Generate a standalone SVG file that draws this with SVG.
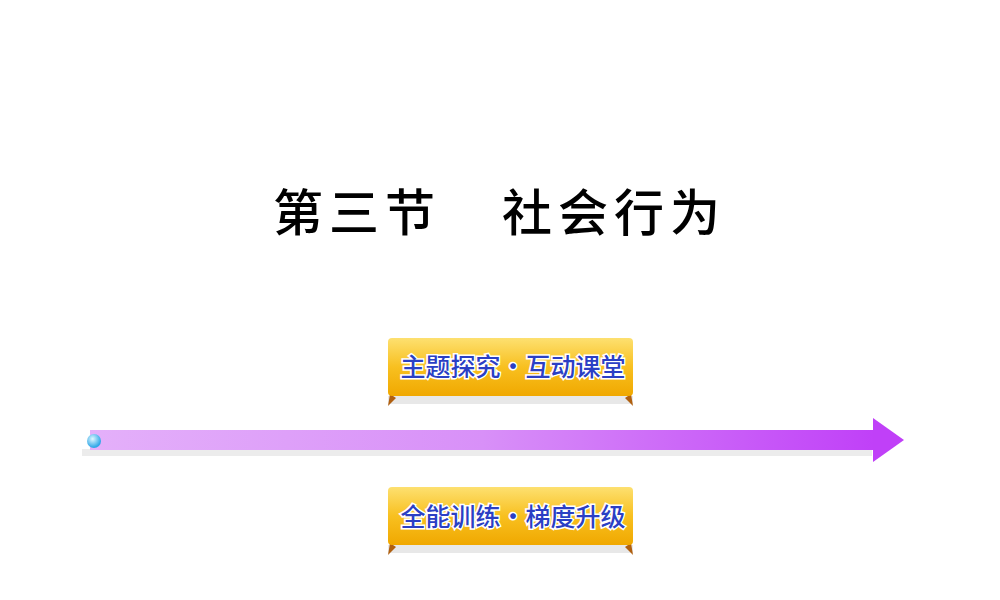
<svg xmlns="http://www.w3.org/2000/svg" width="1000" height="600" viewBox="0 0 1000 600">
<style>
.t{font-family:"Noto Sans CJK SC",sans-serif;font-size:50px;font-weight:500;fill:#000;letter-spacing:6px}
.b{font-family:"Noto Sans CJK SC",sans-serif;font-size:25px;font-weight:500;fill:#2b3fc4;stroke:#fff;stroke-width:3;paint-order:stroke}
</style>
<defs>
<linearGradient id="bar" x1="0" x2="1"><stop offset="0" stop-color="#e4b0fa"/><stop offset="0.5" stop-color="#d890f8"/><stop offset="1" stop-color="#c040f8"/></linearGradient>
<linearGradient id="gold" x1="0" y1="0" x2="0" y2="1"><stop offset="0" stop-color="#fde070"/><stop offset="0.5" stop-color="#f8c020"/><stop offset="1" stop-color="#f0a800"/></linearGradient>
<radialGradient id="ball" cx="0.4" cy="0.35" r="0.6"><stop offset="0" stop-color="#e0f8ff"/><stop offset="1" stop-color="#30a8e8"/></radialGradient>
<g id="ban">
<rect x="0" y="58" width="245" height="8" fill="#e8e8e8"/>
<path d="M2,56 L0,68 L8,60 Z M243,56 L245,68 L237,60 Z" fill="#b06010"/>
<rect x="0" y="0" width="245" height="58" rx="4" fill="url(#gold)"/>
</g>
</defs>
<rect width="1000" height="600" fill="#fff"/>
<text class="t" x="273" y="231">第三节</text>
<text class="t" x="502" y="231">社会行为</text>
<g id="connectors">
<rect x="82" y="449" width="790" height="7" fill="#ececec"/>
<rect x="90" y="430" width="785" height="20" fill="url(#bar)"/>
<polygon points="873,418 904,440 873,462" fill="#c040f8"/>
<circle cx="94" cy="441" r="7" fill="url(#ball)"/>
</g>
<g id="n1"><use href="#ban" x="388" y="338"/><text class="b" x="513" y="376" text-anchor="middle">主题探究·互动课堂</text></g>
<g id="n2"><use href="#ban" x="388" y="487"/><text class="b" x="513" y="526" text-anchor="middle">全能训练·梯度升级</text></g>
</svg>
